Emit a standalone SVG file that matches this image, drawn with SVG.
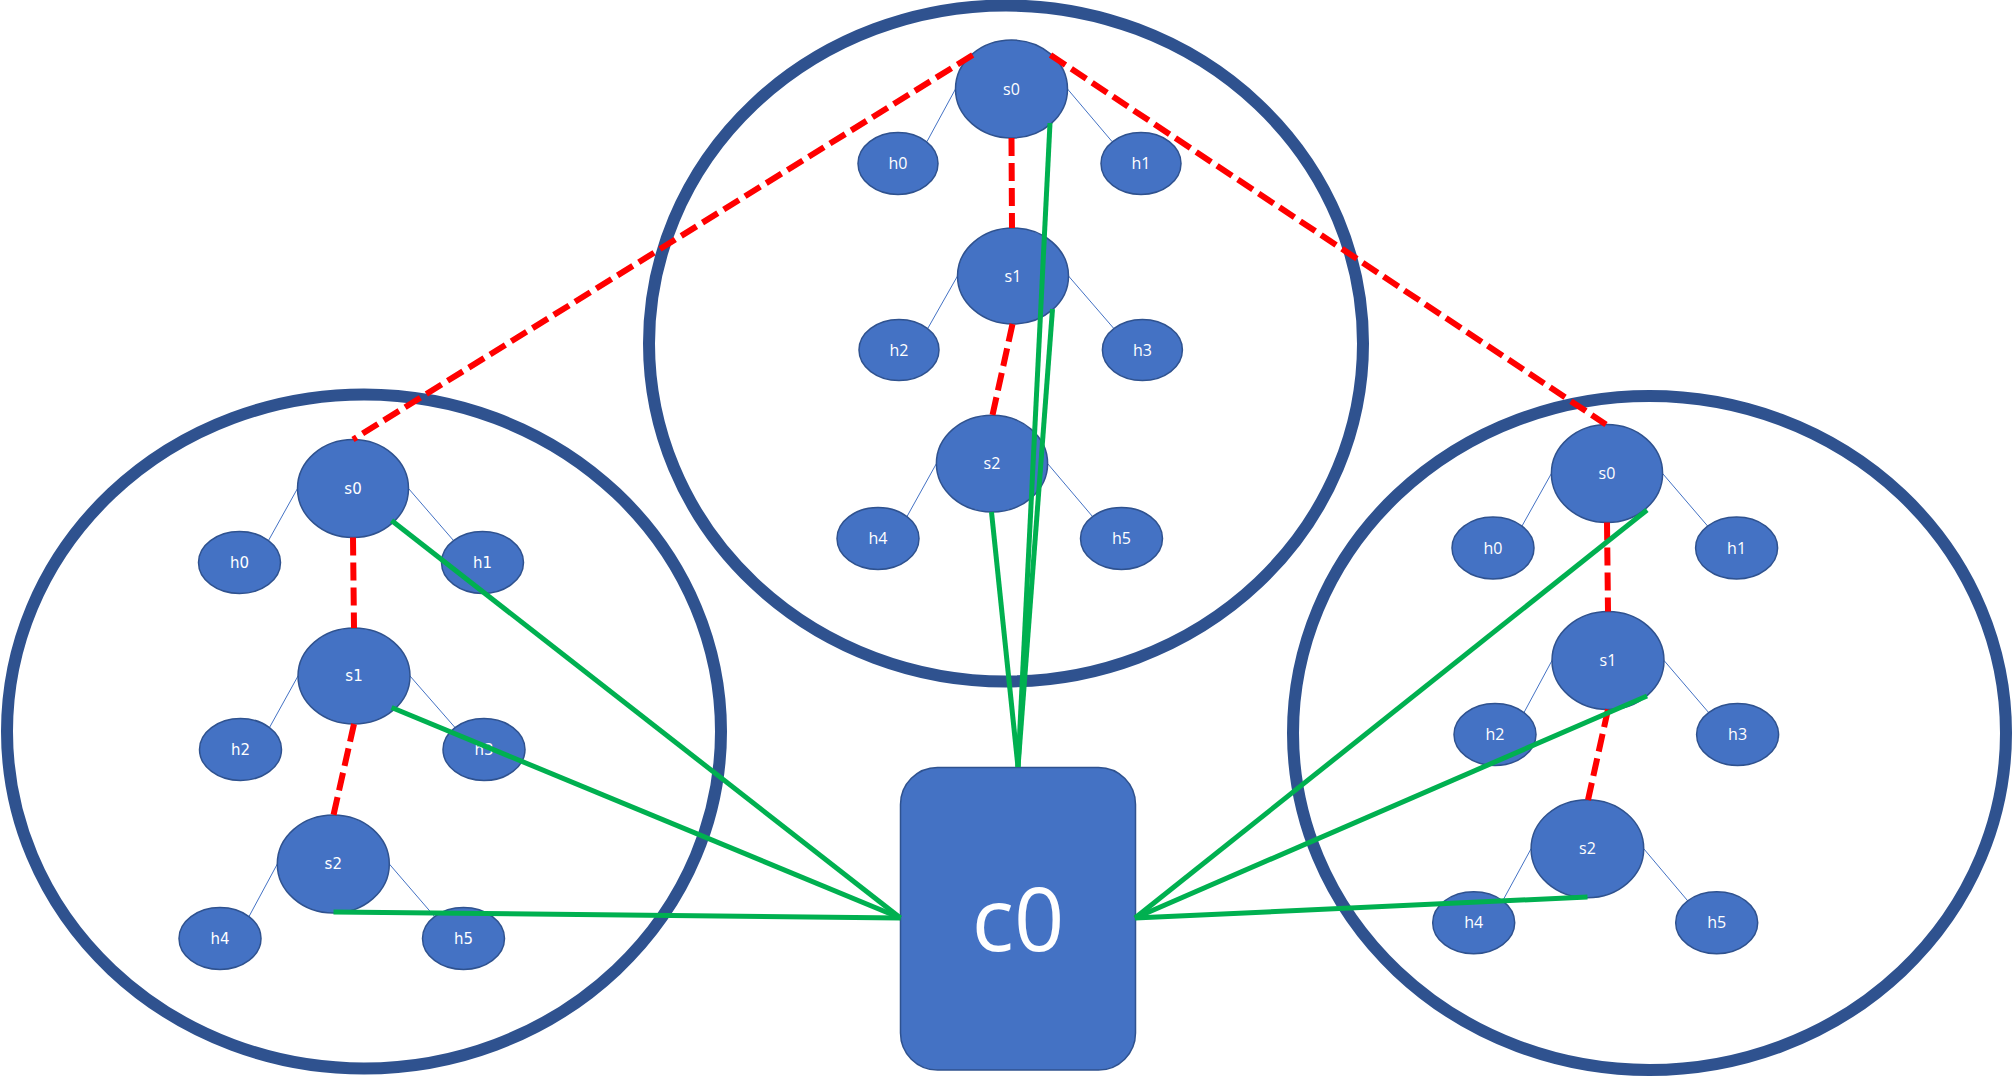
<svg xmlns="http://www.w3.org/2000/svg" width="2013" height="1078" viewBox="0 0 2013 1078">
<style>
.domain{fill:none;stroke:#2F528F;stroke-width:12}
.n{fill:#4472C4;stroke:#2F528F;stroke-width:1.5}
.t{fill:#fff;font-family:"Open Sans","Noto Sans",sans-serif;font-size:16px;text-anchor:middle}
.tl{fill:#fff;font-family:"DejaVu Sans",sans-serif;font-size:15px;text-anchor:middle}
.host{stroke:#4472C4;stroke-width:1;fill:none}
.red{stroke:#FF0000;stroke-width:6;stroke-dasharray:18 7;fill:none}
.grn{stroke:#00B050;stroke-width:5;fill:none}
</style>
<rect width="2013" height="1078" fill="#fff"/>
<g id="domains">
<ellipse id="domain-top" class="domain" cx="1006" cy="343.5" rx="357" ry="338"/>
<ellipse id="domain-left" class="domain" cx="364" cy="731.5" rx="357" ry="337"/>
<ellipse id="domain-right" class="domain" cx="1649.5" cy="733" rx="356.5" ry="337"/>
</g>
<g id="host-links">
<line class="host" x1="955.5" y1="89" x2="927" y2="141.5"/>
<line class="host" x1="1067.5" y1="89" x2="1112" y2="141.5"/>
<line class="host" x1="957.5" y1="276" x2="928" y2="328"/>
<line class="host" x1="1068.5" y1="276" x2="1113.4" y2="328"/>
<line class="host" x1="936.4" y1="463.6" x2="907" y2="516.5"/>
<line class="host" x1="1047.6" y1="463.6" x2="1092.5" y2="516.5"/>
<line class="host" x1="297.5" y1="488.5" x2="268.5" y2="540.5"/>
<line class="host" x1="408.5" y1="488.5" x2="453.5" y2="540.5"/>
<line class="host" x1="298" y1="676" x2="269.5" y2="727.5"/>
<line class="host" x1="410" y1="676" x2="455" y2="727.5"/>
<line class="host" x1="277.3" y1="864" x2="249" y2="916.5"/>
<line class="host" x1="389.3" y1="864" x2="434.5" y2="916.5"/>
<line class="host" x1="1551.4" y1="473.5" x2="1522" y2="526"/>
<line class="host" x1="1662.6" y1="473.5" x2="1707.6" y2="526"/>
<line class="host" x1="1552" y1="660.5" x2="1524" y2="712.5"/>
<line class="host" x1="1664" y1="660.5" x2="1708.6" y2="712.5"/>
<line class="host" x1="1531.1" y1="848.7" x2="1502.7" y2="900.8"/>
<line class="host" x1="1643.7" y1="848.7" x2="1687.7" y2="900.8"/>
</g>
<g id="top-s0"><ellipse class="n" cx="1011.5" cy="89" rx="56" ry="49"/><text class="t" x="1011.5" y="89" dy=".35em">s0</text></g>
<g id="top-h0"><ellipse class="n" cx="898" cy="163.5" rx="40" ry="31"/><text class="t" x="898" y="163.5" dy=".35em">h0</text></g>
<g id="top-h1"><ellipse class="n" cx="1141" cy="163.5" rx="40" ry="31"/><text class="t" x="1141" y="163.5" dy=".35em">h1</text></g>
<g id="top-s1"><ellipse class="n" cx="1013" cy="276" rx="55.5" ry="48"/><text class="t" x="1013" y="276" dy=".35em">s1</text></g>
<g id="top-h2"><ellipse class="n" cx="899" cy="350" rx="40" ry="30.5"/><text class="t" x="899" y="350" dy=".35em">h2</text></g>
<g id="top-h3"><ellipse class="n" cx="1142.4" cy="350" rx="40" ry="30.5"/><text class="t" x="1142.4" y="350" dy=".35em">h3</text></g>
<g id="top-s2"><ellipse class="n" cx="992" cy="463.6" rx="55.6" ry="48.4"/><text class="t" x="992" y="463.6" dy=".35em">s2</text></g>
<g id="top-h4"><ellipse class="n" cx="878" cy="538.5" rx="41" ry="31"/><text class="t" x="878" y="538.5" dy=".35em">h4</text></g>
<g id="top-h5"><ellipse class="n" cx="1121.5" cy="538.5" rx="41" ry="31"/><text class="t" x="1121.5" y="538.5" dy=".35em">h5</text></g>

<g id="left-s0"><ellipse class="n" cx="353" cy="488.5" rx="55.5" ry="49"/><text class="tl" x="353" y="488.5" dy=".35em">s0</text></g>
<g id="left-h0"><ellipse class="n" cx="239.5" cy="562.5" rx="41" ry="31"/><text class="tl" x="239.5" y="562.5" dy=".35em">h0</text></g>
<g id="left-h1"><ellipse class="n" cx="482.5" cy="562.5" rx="41" ry="31"/><text class="tl" x="482.5" y="562.5" dy=".35em">h1</text></g>
<g id="left-s1"><ellipse class="n" cx="354" cy="676" rx="56" ry="48"/><text class="tl" x="354" y="676" dy=".35em">s1</text></g>
<g id="left-h2"><ellipse class="n" cx="240.5" cy="749.5" rx="41" ry="31"/><text class="tl" x="240.5" y="749.5" dy=".35em">h2</text></g>
<g id="left-h3"><ellipse class="n" cx="484" cy="749.5" rx="41" ry="31"/><text class="tl" x="484" y="749.5" dy=".35em">h3</text></g>
<g id="left-s2"><ellipse class="n" cx="333.3" cy="864" rx="56" ry="49"/><text class="tl" x="333.3" y="864" dy=".35em">s2</text></g>
<g id="left-h4"><ellipse class="n" cx="220" cy="938.5" rx="41" ry="31"/><text class="tl" x="220" y="938.5" dy=".35em">h4</text></g>
<g id="left-h5"><ellipse class="n" cx="463.5" cy="938.5" rx="41" ry="31"/><text class="tl" x="463.5" y="938.5" dy=".35em">h5</text></g>

<g id="right-s0"><ellipse class="n" cx="1607" cy="473.5" rx="55.6" ry="49"/><text class="t" x="1607" y="473.5" dy=".35em">s0</text></g>
<g id="right-h0"><ellipse class="n" cx="1493" cy="548" rx="41" ry="31"/><text class="t" x="1493" y="548" dy=".35em">h0</text></g>
<g id="right-h1"><ellipse class="n" cx="1736.6" cy="548" rx="41" ry="31"/><text class="t" x="1736.6" y="548" dy=".35em">h1</text></g>
<g id="right-s1"><ellipse class="n" cx="1608" cy="660.5" rx="56" ry="49"/><text class="t" x="1608" y="660.5" dy=".35em">s1</text></g>
<g id="right-h2"><ellipse class="n" cx="1495" cy="734.5" rx="41" ry="31"/><text class="t" x="1495" y="734.5" dy=".35em">h2</text></g>
<g id="right-h3"><ellipse class="n" cx="1737.6" cy="734.5" rx="41" ry="31"/><text class="t" x="1737.6" y="734.5" dy=".35em">h3</text></g>
<g id="right-s2"><ellipse class="n" cx="1587.4" cy="848.7" rx="56.3" ry="49"/><text class="t" x="1587.4" y="848.7" dy=".35em">s2</text></g>
<g id="right-h4"><ellipse class="n" cx="1473.7" cy="922.8" rx="41" ry="31"/><text class="t" x="1473.7" y="922.8" dy=".35em">h4</text></g>
<g id="right-h5"><ellipse class="n" cx="1716.7" cy="922.8" rx="41" ry="31"/><text class="t" x="1716.7" y="922.8" dy=".35em">h5</text></g>

<g id="c0"><rect class="n" x="900.5" y="767.5" width="235" height="302.5" rx="37" ry="37"/><text x="1018" y="920" dy=".35em" fill="#fff" font-family="Open Sans, Noto Sans, sans-serif" font-size="88" text-anchor="middle">c0</text></g>

<g id="connectors">
<line class="red" x1="972.7" y1="55" x2="353" y2="439.5"/>
<line class="red" x1="1050.5" y1="55" x2="1606" y2="424.5"/>
<line class="red" x1="1011.5" y1="138" x2="1012" y2="228"/>
<line class="red" x1="1012.5" y1="324" x2="992.5" y2="415"/>
<line class="red" x1="353" y1="537.5" x2="354" y2="628"/>
<line class="red" x1="354" y1="724" x2="333.5" y2="815"/>
<line class="red" x1="1607" y1="522.5" x2="1608" y2="611.5"/>
<line class="red" x1="1608" y1="709.5" x2="1588" y2="800"/>
<line class="grn" x1="1050" y1="123" x2="1018" y2="767"/>
<line class="grn" x1="1052.5" y1="309" x2="1018" y2="767"/>
<line class="grn" x1="991.5" y1="512" x2="1018" y2="767"/>
<line class="grn" x1="391.6" y1="520.5" x2="900.5" y2="918"/>
<line class="grn" x1="391.6" y1="707.5" x2="900.5" y2="918"/>
<line class="grn" x1="333.5" y1="912" x2="900.5" y2="918"/>
<line class="grn" x1="1135" y1="918" x2="1647" y2="510"/>
<line class="grn" x1="1135" y1="918" x2="1647" y2="696"/>
<line class="grn" x1="1135" y1="918" x2="1587.5" y2="897"/>
</g>
</svg>
